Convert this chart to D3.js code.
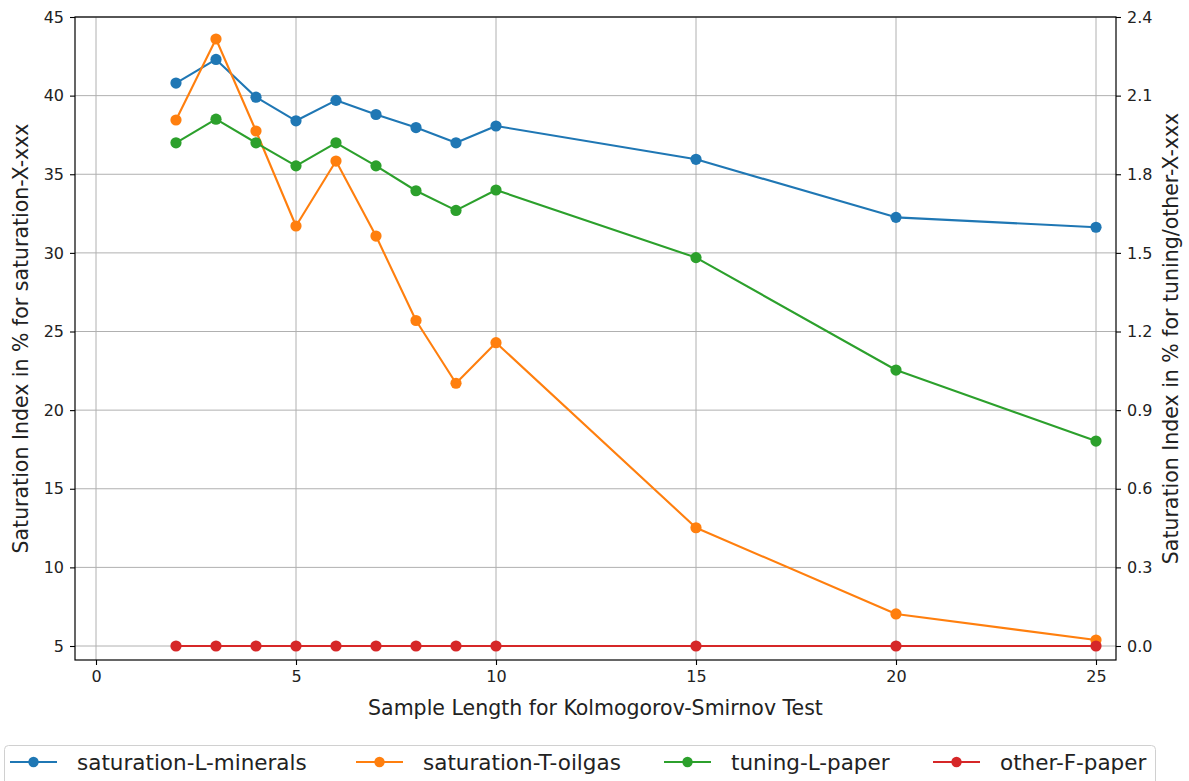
<!DOCTYPE html>
<html>
<head>
<meta charset="utf-8">
<script src="https://cdn.jsdelivr.net/npm/d3@7"></script>
<style>
  html, body { margin: 0; padding: 0; background: #fff; }
  svg { display: block; font-family: "DejaVu Sans", sans-serif; }
</style>
</head>
<body>
<svg id="chart" width="1189" height="781"></svg>
<script>
// Sample lengths used for the KS test
const sampleLengths = [2, 3, 4, 5, 6, 7, 8, 9, 10, 15, 20, 25];

// Left-axis series (saturation, %)
const saturationLMinerals = [40.8, 42.3, 39.9, 38.4, 39.7, 38.8, 37.97, 37.0, 38.07, 35.95, 32.26, 31.63];
const saturationTOilgas   = [38.45, 43.6, 37.75, 31.71, 35.84, 31.07, 25.7, 21.71, 24.29, 12.52, 7.04, 5.38];

// Right-axis series (tuning / other, %)
const tuningLPaper = [1.92, 2.01, 1.92, 1.832, 1.92, 1.832, 1.737, 1.662, 1.74, 1.482, 1.053, 0.782];
const otherFPaper  = [0, 0, 0, 0, 0, 0, 0, 0, 0, 0, 0, 0];

const xTicks = [0, 5, 10, 15, 20, 25];
const leftTicks = [5, 10, 15, 20, 25, 30, 35, 40, 45];
const rightTicks = [0.0, 0.3, 0.6, 0.9, 1.2, 1.5, 1.8, 2.1, 2.4];

const seriesNames = ["saturation-L-minerals", "saturation-T-oilgas", "tuning-L-paper", "other-F-paper"];
const colors = ["#1f77b4", "#ff7f0e", "#2ca02c", "#d62728"];

const plot = { left: 75, right: 1116, top: 17, bottom: 660 };

const svg = d3.select("#chart");

const x = d3.scaleLinear().domain([-0.525, 25.5]).range([plot.left, plot.right]);
const yLeft = d3.scaleLinear().domain([4.11, 45]).range([plot.bottom, plot.top]);
const yRight = d3.scaleLinear().domain([-0.0534, 2.4]).range([plot.bottom, plot.top]);

// Grid lines
const grid = svg.append("g").attr("stroke", "#b0b0b0").attr("stroke-width", 1);
xTicks.forEach(t => {
  grid.append("line")
    .attr("x1", x(t)).attr("x2", x(t))
    .attr("y1", plot.top).attr("y2", plot.bottom);
});
leftTicks.forEach(t => {
  grid.append("line")
    .attr("x1", plot.left).attr("x2", plot.right)
    .attr("y1", yLeft(t)).attr("y2", yLeft(t));
});

// Axes
const tickFont = 16;
function styleAxis(g) {
  g.select(".domain").remove();
  g.selectAll(".tick line").attr("stroke", "#000").attr("stroke-width", 1.1);
  g.selectAll(".tick text").attr("fill", "#222").attr("font-size", tickFont)
    .attr("font-family", "DejaVu Sans, sans-serif");
}

svg.append("g")
  .attr("transform", `translate(0,${plot.bottom})`)
  .call(d3.axisBottom(x).tickValues(xTicks).tickFormat(d3.format("d")).tickSize(5).tickPadding(6))
  .call(styleAxis);

svg.append("g")
  .attr("transform", `translate(${plot.left},0)`)
  .call(d3.axisLeft(yLeft).tickValues(leftTicks).tickFormat(d3.format("d")).tickSize(5).tickPadding(6))
  .call(styleAxis);

svg.append("g")
  .attr("transform", `translate(${plot.right},0)`)
  .call(d3.axisRight(yRight).tickValues(rightTicks).tickFormat(d3.format(".1f")).tickSize(5).tickPadding(6))
  .call(styleAxis);

// Series
const series = [
  { values: saturationLMinerals, y: yLeft },
  { values: saturationTOilgas, y: yLeft },
  { values: tuningLPaper, y: yRight },
  { values: otherFPaper, y: yRight }
];

const marks = svg.append("g");
series.forEach((s, i) => {
  const pts = sampleLengths.map((d, j) => [d, s.values[j]]);
  const line = d3.line().x(d => x(d[0])).y(d => s.y(d[1]));
  const g = marks.append("g");
  g.append("path")
    .attr("d", line(pts))
    .attr("fill", "none")
    .attr("stroke", colors[i])
    .attr("stroke-width", 2.1)
    .attr("stroke-linejoin", "round");
  g.selectAll("circle").data(pts).join("circle")
    .attr("cx", d => x(d[0]))
    .attr("cy", d => s.y(d[1]))
    .attr("r", 5.6)
    .attr("fill", colors[i]);
});

// Frame
svg.append("rect")
  .attr("x", plot.left).attr("y", plot.top)
  .attr("width", plot.right - plot.left).attr("height", plot.bottom - plot.top)
  .attr("fill", "none").attr("stroke", "#000").attr("stroke-width", 1.2);

// Axis titles
const labelFont = 20.5;
svg.append("text")
  .attr("x", (plot.left + plot.right) / 2).attr("y", 715)
  .attr("text-anchor", "middle").attr("font-size", labelFont).attr("fill", "#222")
  .text("Sample Length for Kolmogorov-Smirnov Test");

svg.append("text")
  .attr("transform", `translate(28,${(plot.top + plot.bottom) / 2}) rotate(-90)`)
  .attr("text-anchor", "middle").attr("font-size", labelFont).attr("fill", "#222")
  .text("Saturation Index in % for saturation-X-xxx");

svg.append("text")
  .attr("transform", `translate(1178,${(plot.top + plot.bottom) / 2}) rotate(-90)`)
  .attr("text-anchor", "middle").attr("font-size", labelFont).attr("fill", "#222")
  .text("Saturation Index in % for tuning/other-X-xxx");

// Legend
const legend = svg.append("g");
legend.append("rect")
  .attr("x", 4.5).attr("y", 745.5).attr("width", 1151).attr("height", 50).attr("rx", 4)
  .attr("fill", "#fff").attr("stroke", "#d0d0d0").attr("stroke-width", 1);

const legendX = [10, 356, 664, 933];
seriesNames.forEach((name, i) => {
  const lx = legendX[i];
  const ly = 762;
  legend.append("line")
    .attr("x1", lx).attr("x2", lx + 47).attr("y1", ly).attr("y2", ly)
    .attr("stroke", colors[i]).attr("stroke-width", 2.1);
  legend.append("circle")
    .attr("cx", lx + 23.5).attr("cy", ly).attr("r", 5.2).attr("fill", colors[i]);
  legend.append("text")
    .attr("x", lx + 67).attr("y", ly).attr("dy", "0.35em")
    .attr("font-size", 21.5).attr("fill", "#222")
    .text(name);
});
</script>
</body>
</html>
